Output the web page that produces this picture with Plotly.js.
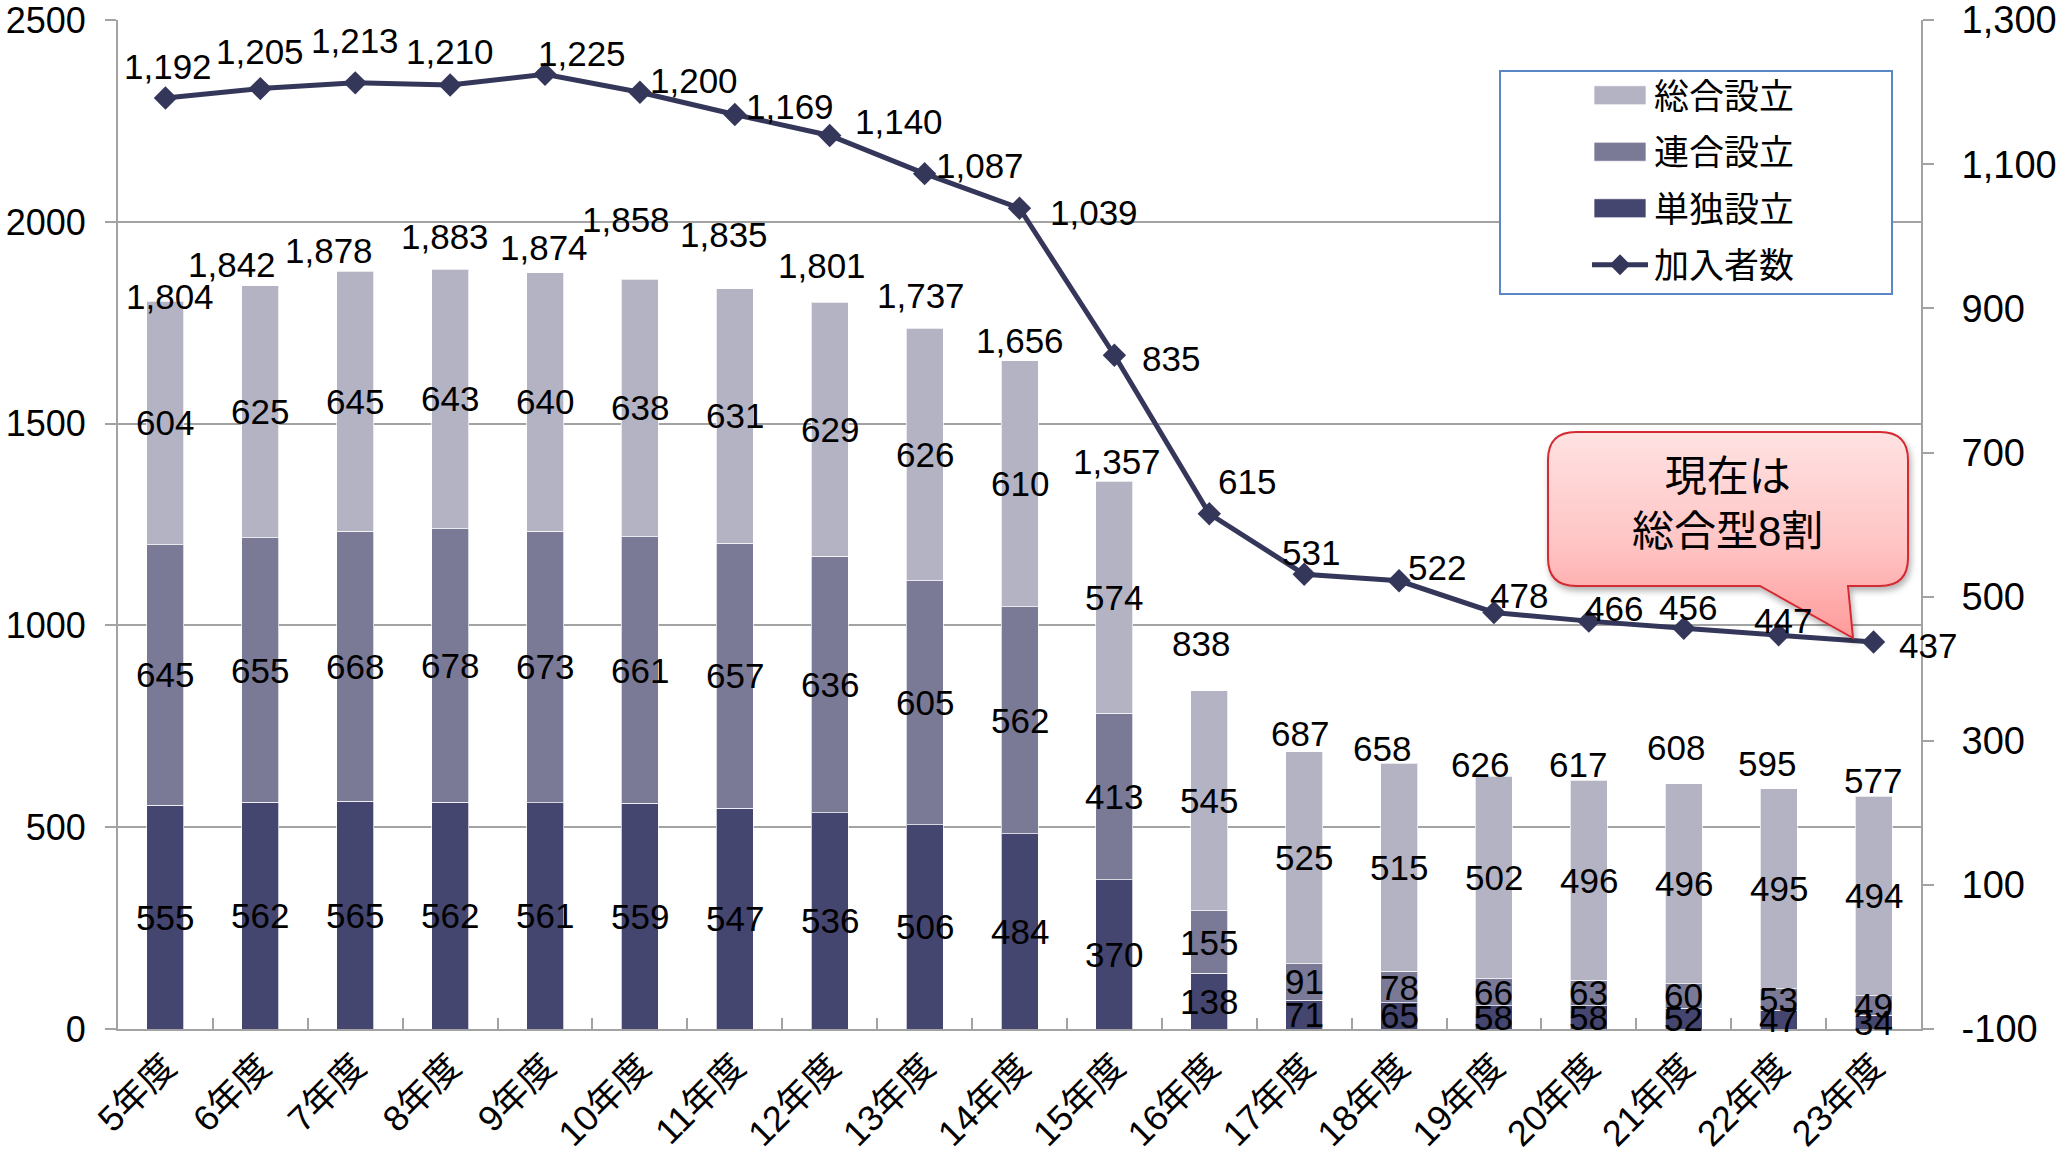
<!DOCTYPE html>
<html>
<head>
<meta charset="utf-8">
<script src="https://cdn.plot.ly/plotly-3.0.1.min.js"></script>
<style>
  html, body { margin: 0; padding: 0; background: #ffffff; }
  #chart { width: 2067px; height: 1161px; }
</style>
</head>
<body>
<div id="chart"></div>
<script>
// Fiscal years (平成) shown on the category axis
const years = ['5年度','6年度','7年度','8年度','9年度','10年度','11年度','12年度','13年度','14年度',
               '15年度','16年度','17年度','18年度','19年度','20年度','21年度','22年度','23年度'];

// Number of funds by type of establishment
const tandoku = [555, 562, 565, 562, 561, 559, 547, 536, 506, 484, 370, 138, 71, 65, 58, 58, 52, 47, 34];
const rengo   = [645, 655, 668, 678, 673, 661, 657, 636, 605, 562, 413, 155, 91, 78, 66, 63, 60, 53, 49];
const sogo    = [604, 625, 645, 643, 640, 638, 631, 629, 626, 610, 574, 545, 525, 515, 502, 496, 496, 495, 494];

// Members (right axis)
const kanyu   = [1192, 1205, 1213, 1210, 1225, 1200, 1169, 1140, 1087, 1039, 835, 615, 531, 522, 478, 466, 456, 447, 437];

const leftTicks  = [0, 500, 1000, 1500, 2000, 2500];
const rightTicks = [-100, 100, 300, 500, 700, 900, 1100, 1300];

const seriesNames = { tandoku: '単独設立', rengo: '連合設立', sogo: '総合設立', kanyu: '加入者数' };
const calloutText = '現在は<br>総合型8割';

// ---- styling ----
const FONT = '"Liberation Sans", Arial, "Noto Sans CJK JP", sans-serif';
const C_SOGO = '#b3b3c4', C_RENGO = '#7a7a97', C_TANDOKU = '#444670', C_LINE = '#35375a';
const GRID = '#a3a3a3';

const W = 2067, H = 1161;
const M = { l: 118, r: 146, t: 20, b: 132 };
const PW = W - M.l - M.r, PH = H - M.t - M.b;
// pixel -> paper fraction helpers for decorations
const fx = px => (px - M.l) / PW;
const fy = py => (H - M.b - py) / PH;

const fmt = v => v.toLocaleString('en-US');

// hand-placed label nudges (pixels: right, up) so labels clear the line and each other
const lineLabelShift = [[3,31],[0,37],[0,42],[0,34],[37,21],[54,12],[55,8],[69,14],[55,8],[74,-4],
                        [57,-3],[38,32],[7,22],[38,13],[25,17],[25,13],[4,21],[4,14],[54,-3]];
const totalLabelShift = [[5,5],[-28,21],[-26,21],[-5,33],[-1,25],[-14,60],[-11,54],[-8,37],[-4,33],[0,20],
                         [3,20],[-8,47],[-4,18],[-17,15],[-14,12],[-11,16],[-8,36],[-12,25],[-1,16]];

const barLine = { color: 'rgba(255,255,255,0.7)', width: 1 };
const traces = [
  { type: 'bar', name: seriesNames.tandoku, x: years, y: tandoku, legendrank: 3, legendgroup: 'a',
    hoverinfo: 'skip', textposition: 'none', marker: { color: C_TANDOKU, line: barLine } },
  { type: 'bar', name: seriesNames.rengo, x: years, y: rengo, legendrank: 2, legendgroup: 'b',
    hoverinfo: 'skip', textposition: 'none', marker: { color: C_RENGO, line: barLine } },
  { type: 'bar', name: seriesNames.sogo, x: years, y: sogo, legendrank: 1, legendgroup: 'c',
    hoverinfo: 'skip', textposition: 'none', marker: { color: C_SOGO, line: barLine } },
  {
    type: 'scatter', mode: 'lines+markers', name: seriesNames.kanyu, legendrank: 4, legendgroup: 'd',
    x: years, y: kanyu, yaxis: 'y2', hoverinfo: 'skip',
    line: { color: C_LINE, width: 5 },
    marker: { symbol: 'diamond', size: 18, color: C_LINE },
    cliponaxis: false
  }
];

const annotations = [];
const labelFont = { family: FONT, size: 35, color: '#000' };
years.forEach((yr, i) => {
  // value labels centred in each stacked segment
  let base = 0;
  [tandoku, rengo, sogo].forEach(arr => {
    const v = arr[i];
    annotations.push({ x: yr, y: base + v / 2, xref: 'x', yref: 'y', text: fmt(v),
      showarrow: false, font: labelFont, yanchor: 'middle' });
    base += v;
  });
  // bar total above each bar
  annotations.push({ x: yr, y: base, xref: 'x', yref: 'y', text: fmt(base),
    showarrow: false, font: labelFont, yanchor: 'middle',
    xshift: totalLabelShift[i][0], yshift: totalLabelShift[i][1] });
  // member count next to each line point
  annotations.push({ x: yr, y: kanyu[i], xref: 'x', yref: 'y2', text: fmt(kanyu[i]),
    showarrow: false, font: labelFont, yanchor: 'middle', xanchor: 'center',
    xshift: lineLabelShift[i][0], yshift: lineLabelShift[i][1] });
});

// callout text
annotations.push({
  xref: 'paper', yref: 'paper', x: fx(1727), y: fy(504), text: calloutText,
  showarrow: false, font: { family: FONT, size: 42, color: '#000' }, align: 'center',
  xanchor: 'center', yanchor: 'middle'
});

// callout bubble path (rounded rectangle with a tail pointing at the last point)
function calloutPath(x0, y0, x1, y1, r, tA, tB, tipX, tipY) {
  const P = (x, y) => fx(x).toFixed(5) + ',' + fy(y).toFixed(5);
  return 'M' + P(x0 + r, y0) + ' L' + P(x1 - r, y0) + ' Q' + P(x1, y0) + ' ' + P(x1, y0 + r) +
         ' L' + P(x1, y1 - r) + ' Q' + P(x1, y1) + ' ' + P(x1 - r, y1) +
         ' L' + P(tB, y1) + ' L' + P(tipX, tipY) + ' L' + P(tA, y1) +
         ' L' + P(x0 + r, y1) + ' Q' + P(x0, y1) + ' ' + P(x0, y1 - r) +
         ' L' + P(x0, y0 + r) + ' Q' + P(x0, y0) + ' ' + P(x0 + r, y0) + ' Z';
}

const shapes = [
  { type: 'rect', xref: 'paper', yref: 'paper', x0: fx(1500), x1: fx(1892), y0: fy(294), y1: fy(71),
    line: { color: '#5b88c4', width: 2 }, fillcolor: '#ffffff', layer: 'above' },
  { type: 'path', xref: 'paper', yref: 'paper', layer: 'above',
    path: calloutPath(1548, 432, 1908, 586, 28, 1760, 1848, 1853, 638),
    line: { color: '#d42a33', width: 2 }, fillcolor: 'rgb(255,181,181)' }
];

const layout = {
  width: W, height: H,
  margin: M,
  paper_bgcolor: '#ffffff', plot_bgcolor: '#ffffff',
  font: { family: FONT, color: '#000' },
  barmode: 'stack', bargap: 0.61,
  showlegend: true,
  legend: {
    x: fx(1584), y: fy(66), xanchor: 'left', yanchor: 'top',
    bgcolor: 'rgba(0,0,0,0)', borderwidth: 0,
    font: { family: FONT, size: 35, color: '#000' },
    traceorder: 'grouped', tracegroupgap: 8, itemwidth: 60
  },
  xaxis: {
    type: 'category', range: [-0.5, years.length - 0.5], showgrid: false, zeroline: false,
    showline: true, linecolor: GRID, linewidth: 2,
    ticks: 'inside', tickson: 'boundaries', ticklen: 11, tickwidth: 2, tickcolor: GRID,
    tickangle: -45, tickfont: { family: FONT, size: 36, color: '#000' },
    automargin: false, fixedrange: true
  },
  yaxis: {
    range: [0, 2500.4], tickvals: leftTicks, ticktext: leftTicks.map(String),
    showgrid: true, gridcolor: GRID, gridwidth: 2, zeroline: false,
    showline: true, linecolor: GRID, linewidth: 2,
    ticks: 'outside', ticklen: 11, tickwidth: 2, tickcolor: GRID,
    tickfont: { family: FONT, size: 36, color: '#000' }, ticklabelstandoff: 12,
    ticklabeloverflow: 'allow',
    automargin: false, fixedrange: true
  },
  yaxis2: {
    overlaying: 'y', side: 'right', range: [-100, 1300.2], tickvals: rightTicks, ticktext: rightTicks.map(fmt),
    showgrid: false, zeroline: false,
    showline: true, linecolor: GRID, linewidth: 2,
    ticks: 'outside', ticklen: 11, tickwidth: 2, tickcolor: GRID,
    tickfont: { family: FONT, size: 38, color: '#000' }, ticklabelstandoff: 20,
    ticklabeloverflow: 'allow',
    automargin: false, fixedrange: true
  },
  annotations: annotations,
  shapes: shapes
};

Plotly.newPlot('chart', traces, layout, { displayModeBar: false, staticPlot: true }).then(gd => {
  const NS = 'http://www.w3.org/2000/svg';

  // wide legend swatches placed just left of each legend label
  gd.querySelectorAll('.legend .traces').forEach(g => {
    const txt = g.querySelector('text.legendtext');
    if (!txt) return;
    const tx = parseFloat(txt.getAttribute('x')) || 40;
    const bar = g.querySelector('.legendpoints path');
    const line = g.querySelector('.legendlines path');
    if (line) {
      line.setAttribute('d', 'M' + (tx - 62) + ',0H' + (tx - 6));
      line.removeAttribute('transform');
      const mk = g.querySelector('.legendpoints path.scatterpts');
      if (mk) mk.setAttribute('transform', 'translate(' + (tx - 34) + ',0)');
    } else if (bar) {
      bar.setAttribute('transform', '');
      bar.setAttribute('d', 'M' + (tx - 60) + ',-9.5H' + (tx - 8) + 'V9.5H' + (tx - 60) + 'Z');
    }
  });

  // vertical pink gradient and soft shadow for the callout bubble
  const svg = gd.querySelector('svg.main-svg');
  let defs = svg.querySelector('defs');
  if (!defs) { defs = document.createElementNS(NS, 'defs'); svg.insertBefore(defs, svg.firstChild); }
  const grad = document.createElementNS(NS, 'linearGradient');
  grad.setAttribute('id', 'bubbleFill');
  grad.setAttribute('x1', '0'); grad.setAttribute('y1', '0');
  grad.setAttribute('x2', '0'); grad.setAttribute('y2', '1');
  [['0', '#ffe2e2'], ['0.55', '#ffc4c4'], ['1', '#ff9a9a']].forEach(([o, c]) => {
    const s = document.createElementNS(NS, 'stop');
    s.setAttribute('offset', o); s.setAttribute('stop-color', c);
    grad.appendChild(s);
  });
  defs.appendChild(grad);
  const filt = document.createElementNS(NS, 'filter');
  filt.setAttribute('id', 'bubbleShadow');
  filt.setAttribute('x', '-10%'); filt.setAttribute('y', '-10%');
  filt.setAttribute('width', '130%'); filt.setAttribute('height', '140%');
  const ds = document.createElementNS(NS, 'feDropShadow');
  ds.setAttribute('dx', '2'); ds.setAttribute('dy', '4'); ds.setAttribute('stdDeviation', '3');
  ds.setAttribute('flood-color', '#000'); ds.setAttribute('flood-opacity', '0.3');
  filt.appendChild(ds);
  defs.appendChild(filt);

  gd.querySelectorAll('.shapelayer path').forEach(p => {
    const f = (p.style.fill || '').replace(/\s/g, '');
    if (f === 'rgb(255,181,181)') {
      p.style.fill = 'url(#bubbleFill)';
      p.style.fillOpacity = '1';
      p.setAttribute('filter', 'url(#bubbleShadow)');
    }
  });
});
</script>
</body>
</html>
